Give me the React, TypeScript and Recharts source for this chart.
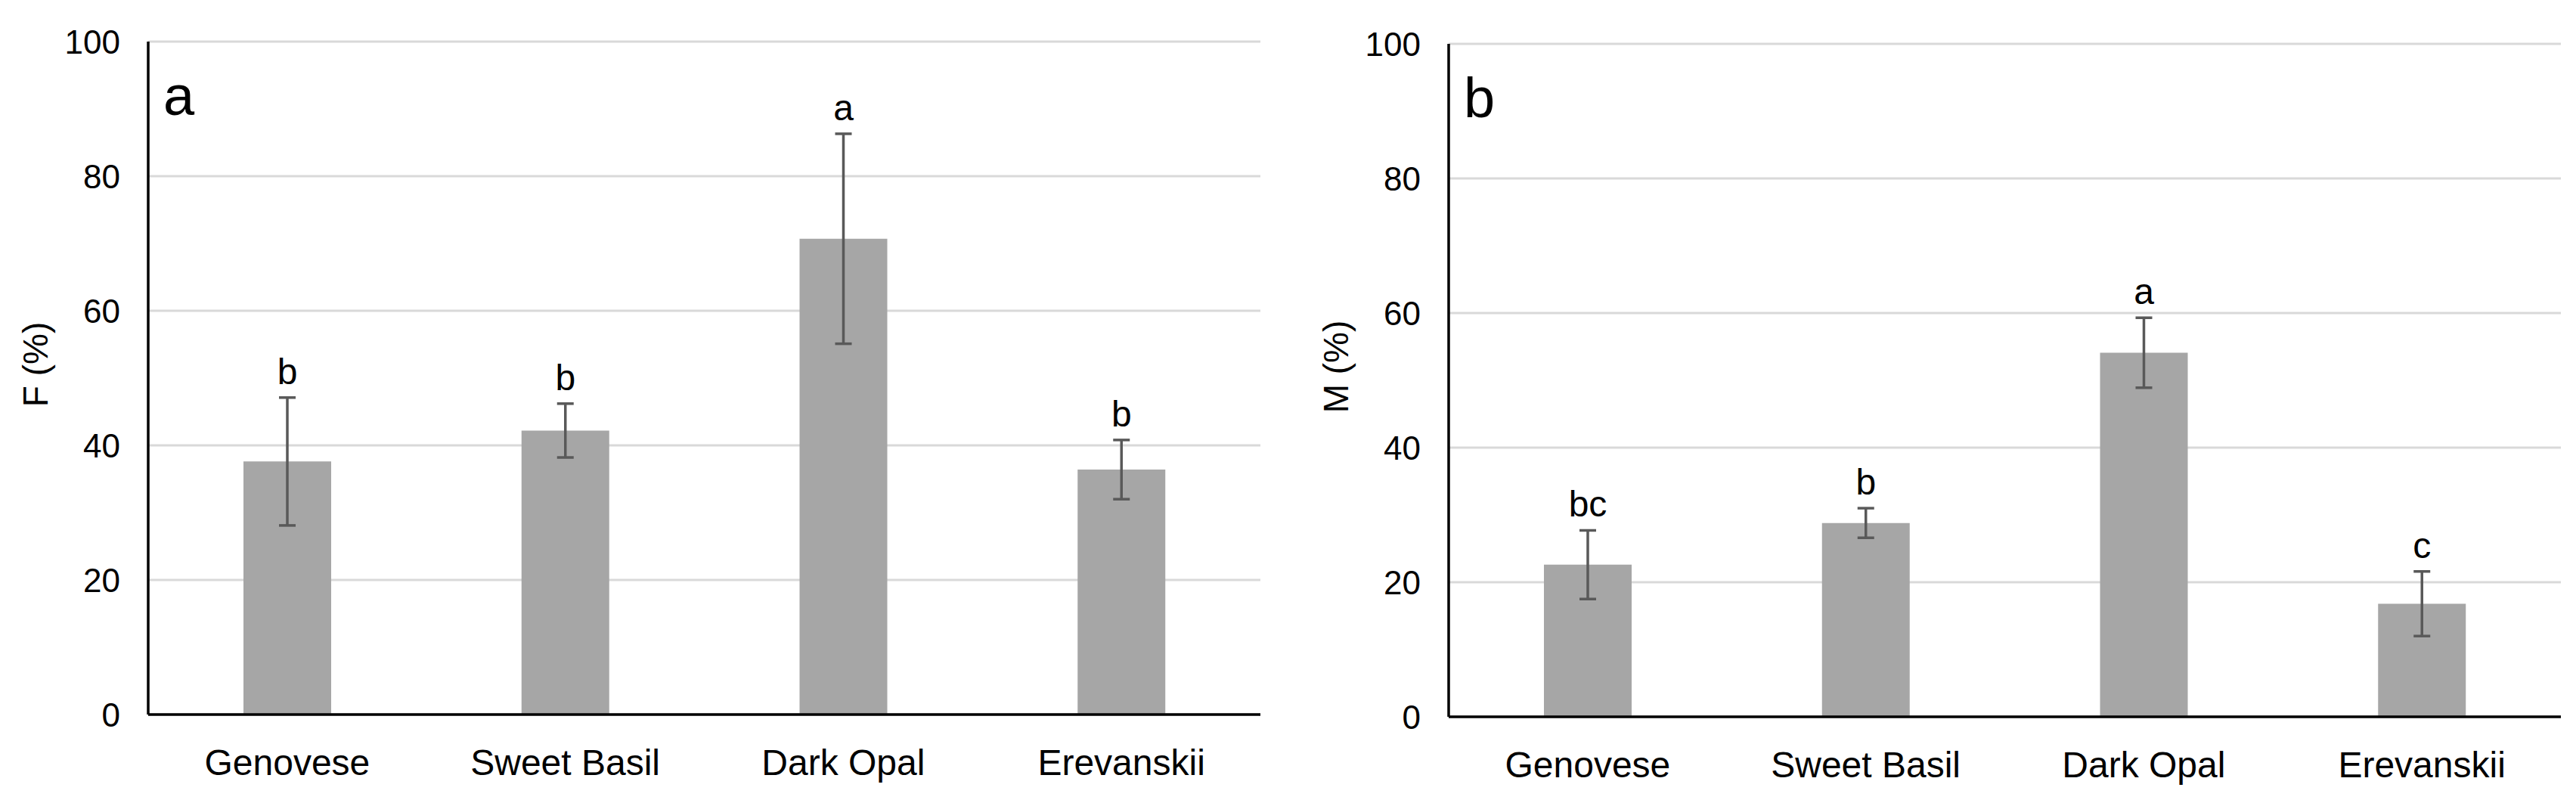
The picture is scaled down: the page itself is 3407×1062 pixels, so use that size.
import React from 'react';
import {
  Bar,
  BarChart,
  CartesianGrid,
  ErrorBar,
  LabelList,
  XAxis,
  YAxis,
} from 'recharts';

const cultivars = ['Genovese', 'Sweet Basil', 'Dark Opal', 'Erevanskii'];
const yTicks = [0, 20, 40, 60, 80, 100];

// panel a: F (%)
const fMeans = [37.6, 42.2, 70.7, 36.4];
const fErrors = [9.5, 4.0, 15.6, 4.4];
const fLetters = ['b', 'b', 'a', 'b'];

// panel b: M (%)
const mMeans = [22.6, 28.8, 54.1, 16.8];
const mErrors = [5.1, 2.2, 5.2, 4.8];
const mLetters = ['bc', 'b', 'a', 'c'];

const FONT = '"Liberation Sans", Arial, sans-serif';
const BAR = '#A6A6A6';
const ERR = '#595959';
const GRID = '#D9D9D9';

interface PanelProps {
  means: number[];
  errors: number[];
  letters: string[];
  axisTitle: string;
  panel: string;
  top: number;
  width: number;
}

const Panel: React.FC<PanelProps> = ({ means, errors, letters, axisTitle, panel, top, width }) => {
  const data = cultivars.map((name, i) => ({
    name,
    value: means[i],
    err: errors[i],
    letter: letters[i],
  }));
  const xAxisHeight = 1062 - top - 890;

  const renderLetter = (props: any) => {
    const { x, y, width: w, height: h, index } = props;
    const perUnit = h / means[index];
    const errTop = y - errors[index] * perUnit;
    return (
      <text
        x={x + w / 2}
        y={errTop - 18}
        textAnchor="middle"
        fontFamily={FONT}
        fontSize={48}
        fill="#000"
      >
        {letters[index]}
      </text>
    );
  };

  const renderAxisTitle = (props: any) => {
    const vb = props.viewBox;
    const cx = vb.x + 47;
    const cy = vb.y + vb.height / 2 - 18;
    return (
      <g>
        <text
          x={cx}
          y={cy}
          transform={`rotate(-90, ${cx}, ${cy})`}
          textAnchor="middle"
          dominantBaseline="central"
          fontFamily={FONT}
          fontSize={46}
          fill="#000"
        >
          {axisTitle}
        </text>
        <text x={vb.x + vb.width + 20} y={vb.y + 97} fontFamily={FONT} fontSize={74} fill="#000">
          {panel}
        </text>
      </g>
    );
  };

  return (
    <BarChart
      width={width}
      height={1062}
      data={data}
      margin={{ top, right: width - 196 - 1471, bottom: 0, left: 0 }}
      barCategoryGap={0}
    >
      <CartesianGrid vertical={false} stroke={GRID} strokeWidth={3} />
      <XAxis
        dataKey="name"
        height={xAxisHeight}
        tickLine={false}
        tickSize={0}
        tickMargin={46}
        axisLine={{ stroke: '#000', strokeWidth: 3.5 }}
        tick={{ fill: '#000', fontSize: 48, fontFamily: FONT }}
      />
      <YAxis
        width={196}
        domain={[0, 100]}
        ticks={yTicks}
        tickLine={false}
        tickSize={0}
        tickMargin={37}
        axisLine={{ stroke: '#000', strokeWidth: 3.5 }}
        tick={{ fill: '#000', fontSize: 44, fontFamily: FONT }}
        label={{ content: renderAxisTitle }}
      />
      <Bar dataKey="value" fill={BAR} barSize={116} isAnimationActive={false}>
        <ErrorBar dataKey="err" width={11} stroke={ERR} strokeWidth={3.5} direction="y" />
        <LabelList dataKey="letter" content={renderLetter} />
      </Bar>
    </BarChart>
  );
};

const App: React.FC = () => (
  <div
    style={{
      position: 'absolute',
      left: 0,
      top: 0,
      width: 3407,
      height: 1062,
      background: '#fff',
    }}
  >
    <div style={{ position: 'absolute', left: 0, top: 0 }}>
      <Panel
        means={fMeans}
        errors={fErrors}
        letters={fLetters}
        axisTitle="F (%)"
        panel="a"
        top={55}
        width={1700}
      />
    </div>
    <div style={{ position: 'absolute', left: 1720, top: 0 }}>
      <Panel
        means={mMeans}
        errors={mErrors}
        letters={mLetters}
        axisTitle="M (%)"
        panel="b"
        top={58}
        width={1687}
      />
    </div>
  </div>
);

export default App;
